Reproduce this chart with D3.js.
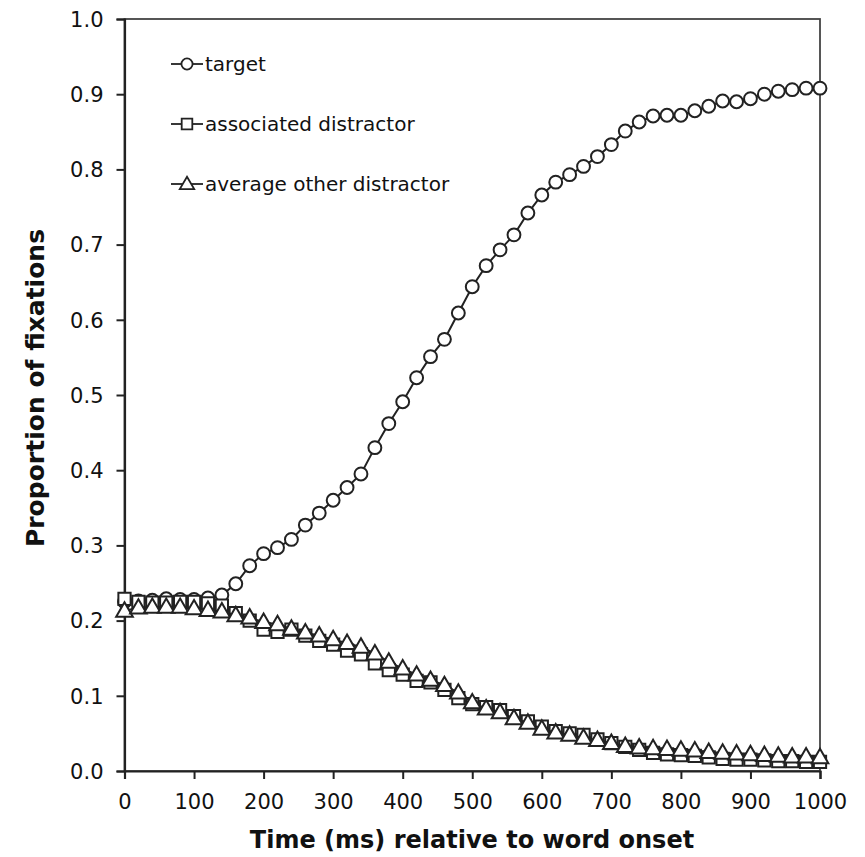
<!DOCTYPE html>
<html>
<head>
<meta charset="utf-8">
<script src="https://cdn.jsdelivr.net/npm/d3@7"></script>
<style>
  body { margin: 0; background: #fff; }
  svg { display: block; }
</style>
</head>
<body>
<div id="chart"></div>
<script>
// time points, every 20 ms
var times = d3.range(0, 1001, 20);

var target = [0.225, 0.226, 0.227, 0.229, 0.228, 0.228, 0.230, 0.234, 0.249, 0.273,
  0.289, 0.297, 0.308, 0.327, 0.343, 0.360, 0.377, 0.395, 0.430, 0.462,
  0.491, 0.523, 0.551, 0.574, 0.609, 0.644, 0.672, 0.693, 0.713, 0.742,
  0.766, 0.783, 0.793, 0.804, 0.817, 0.833, 0.851, 0.863, 0.871, 0.872,
  0.872, 0.878, 0.884, 0.891, 0.890, 0.894, 0.900, 0.904, 0.906, 0.908, 0.908];

var associated = [0.229, 0.225, 0.224, 0.224, 0.225, 0.225, 0.223, 0.220, 0.210, 0.200,
  0.188, 0.185, 0.188, 0.180, 0.173, 0.168, 0.160, 0.155, 0.143, 0.134,
  0.128, 0.120, 0.118, 0.108, 0.097, 0.089, 0.085, 0.081, 0.073, 0.066,
  0.059, 0.053, 0.050, 0.048, 0.042, 0.037, 0.032, 0.028, 0.024, 0.022,
  0.021, 0.020, 0.018, 0.016, 0.015, 0.015, 0.014, 0.013, 0.013, 0.012, 0.012];

var other = [0.213, 0.217, 0.218, 0.218, 0.218, 0.216, 0.214, 0.212, 0.207, 0.204,
  0.198, 0.195, 0.189, 0.184, 0.180, 0.175, 0.170, 0.165, 0.156, 0.145,
  0.136, 0.128, 0.121, 0.114, 0.104, 0.091, 0.083, 0.078, 0.070, 0.064,
  0.056, 0.051, 0.048, 0.044, 0.041, 0.037, 0.033, 0.031, 0.030, 0.029,
  0.028, 0.027, 0.025, 0.024, 0.023, 0.022, 0.021, 0.020, 0.019, 0.019, 0.018];

var seriesNames = ['target', 'associated distractor', 'average other distractor'];
var xTicks = d3.range(0, 1001, 100);
var yTicks = d3.range(0, 1.01, 0.1);

var width = 865;
var height = 857;
var margin = { left: 124.5, right: 45, top: 19, bottom: 86 };
var ink = '#222';
var font = 'DejaVu Sans, Verdana, sans-serif';

var svg = d3.select('#chart').append('svg')
  .attr('width', width)
  .attr('height', height);

var x = d3.scaleLinear().domain([0, 1000]).range([margin.left, width - margin.right]);
var y = d3.scaleLinear().domain([0, 1]).range([height - margin.bottom, margin.top]);

// frame
svg.append('rect')
  .attr('x', x(0)).attr('y', y(1))
  .attr('width', x(1000) - x(0)).attr('height', y(0) - y(1))
  .attr('fill', 'none').attr('stroke', '#444').attr('stroke-width', 1.8);

var xAxis = svg.append('g')
  .attr('transform', 'translate(0,' + y(0) + ')')
  .call(d3.axisBottom(x).tickValues(xTicks).tickSize(8).tickPadding(15).tickFormat(d3.format('d')));
var yAxis = svg.append('g')
  .attr('transform', 'translate(' + x(0) + ',0)')
  .call(d3.axisLeft(y).tickValues(yTicks).tickSize(8).tickPadding(13).tickFormat(d3.format('.1f')));

[xAxis, yAxis].forEach(function(a) {
  a.select('.domain').attr('stroke', ink).attr('stroke-width', 2.2);
  a.selectAll('.tick line').attr('stroke', ink).attr('stroke-width', 2);
  a.selectAll('.tick text')
    .attr('fill', '#111')
    .style('font-family', font)
    .style('font-size', '21px');
});
yAxis.selectAll('.tick text').attr('dy', '0.35em');

// axis titles
svg.append('text')
  .attr('x', 472).attr('y', 848)
  .attr('text-anchor', 'middle')
  .style('font-family', font)
  .style('font-weight', 'bold').style('font-size', '24px')
  .attr('fill', '#111')
  .text('Time (ms) relative to word onset');

svg.append('text')
  .attr('transform', 'translate(44,388) rotate(-90)')
  .attr('text-anchor', 'middle')
  .style('font-family', font)
  .style('font-weight', 'bold').style('font-size', '25px')
  .attr('fill', '#111')
  .text('Proportion of fixations');

var line = d3.line()
  .x(function(d) { return x(d[0]); })
  .y(function(d) { return y(d[1]); });

var symbols = [d3.symbolCircle, d3.symbolSquare, d3.symbolTriangle];
var sizes = [130, 150, 120];
var allSeries = [target, associated, other];

allSeries.forEach(function(vals, si) {
  var pts = times.map(function(t, i) { return [t, vals[i]]; });
  var g = svg.append('g');
  g.append('path')
    .attr('d', line(pts))
    .attr('fill', 'none')
    .attr('stroke', ink)
    .attr('stroke-width', 2);
  g.selectAll('path.mark').data(pts).enter().append('path')
    .attr('class', 'mark')
    .attr('d', d3.symbol().type(symbols[si]).size(sizes[si]))
    .attr('transform', function(d) {
      var dy = si === 2 ? 1 : 0;
      return 'translate(' + x(d[0]) + ',' + (y(d[1]) + dy) + ')';
    })
    .attr('fill', '#fff')
    .attr('stroke', ink)
    .attr('stroke-width', 2);
});

// legend
var legendY = [64, 124, 184];
var legend = svg.append('g');
seriesNames.forEach(function(name, i) {
  var row = legend.append('g').attr('transform', 'translate(0,' + legendY[i] + ')');
  row.append('line')
    .attr('x1', 171).attr('x2', 203).attr('y1', 0).attr('y2', 0)
    .attr('stroke', ink).attr('stroke-width', 1.8);
  row.append('path')
    .attr('d', d3.symbol().type(symbols[i]).size(sizes[i] * 0.75))
    .attr('transform', 'translate(187,' + (i === 2 ? 1 : 0) + ')')
    .attr('fill', '#fff').attr('stroke', ink).attr('stroke-width', 1.8);
  row.append('text')
    .attr('x', 205).attr('y', 0).attr('dy', '0.35em')
    .style('font-family', font)
    .style('font-size', '20px')
    .attr('fill', '#111')
    .text(name);
});
</script>
</body>
</html>
